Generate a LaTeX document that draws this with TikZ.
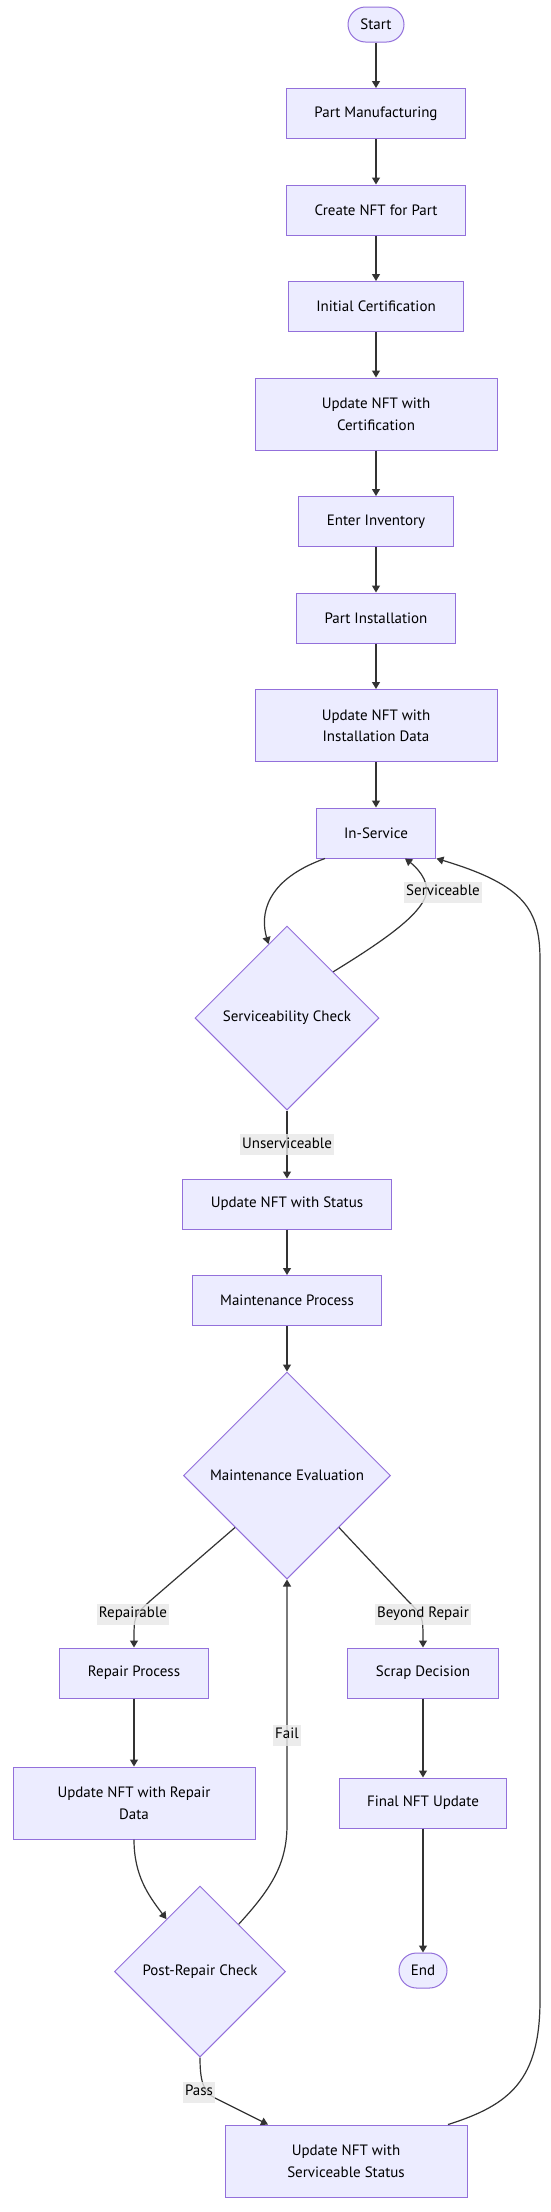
\documentclass[tikz,border=0pt]{standalone}
\usepackage{fontspec}
\setmainfont{PT Sans}
\usetikzlibrary{positioning,arrows.meta,shapes.geometric,calc}

\definecolor{boxfill}{HTML}{ECECFF}
\definecolor{boxline}{HTML}{9370DB}
\definecolor{edgeline}{HTML}{333333}
\definecolor{labelfill}{HTML}{E8E8E8}

\begin{document}
\begin{tikzpicture}[x=1pt,y=-1pt,>={Triangle[length=7pt,width=8pt]},
			node distance=45.5pt,
			every node/.style={
				font=\fontsize{15}{21.5}\selectfont,
				align=center
			},
			procbox/.style={draw=boxline, fill=boxfill, line width=1pt, minimum height=50pt, inner xsep=28pt},
			widebox/.style={procbox, minimum width=242pt, minimum height=72pt},
			decision/.style={diamond, aspect=1, draw=boxline, fill=boxfill, line width=1pt, inner sep=1pt},
			terminal/.style={draw=boxline, fill=boxfill, line width=1pt, rounded corners=17.5pt, minimum height=35pt, inner xsep=0pt},
			edge/.style={->, draw=edgeline, line width=1.2pt},
			elabel/.style={fill=labelfill, fill opacity=0.8, text opacity=1, inner xsep=2pt, inner ysep=3pt, text height=11pt, text depth=4pt}]
			
			\fill[white](0,0) rectangle (550,2212);
			\useasboundingbox (0,0) rectangle (550,2212);
			
			\node (start)[terminal, minimum width=56pt] at (376,24.5){Start};
			
			\node (manuf)[procbox, below=of start]{Part Manufacturing};
			
			\node (create)[procbox, below=of manuf]{Create NFT for Part};
			
			\node (initcert)[procbox, below=of create]{Initial Certification};
			
			\node (updcert)[widebox, below=of initcert]{Update NFT with\\Certification};
			
			\node (inventory)[procbox, below=of updcert]{Enter Inventory};
			
			\node (install)[procbox, below=of inventory]{Part Installation};
			
			\node (updinstall)[widebox, below=of install]{Update NFT with\\Installation Data};
			
			\node (inservice)[procbox, below=of updinstall]{In-Service};
			
			\node (servcheck)[decision, minimum size=184pt, below=67pt of inservice, xshift=-89pt]{Serviceability Check};
			
			\node (updstatus)[procbox, below=68pt of servcheck]{Update NFT with Status};
			
			\node (maintproc)[procbox, below=of updstatus]{Maintenance Process};
			
			\node (mainteval)[decision, minimum size=207pt, below=of maintproc]{Maintenance Evaluation};
			
			\node (repair)[procbox, below=68pt of mainteval, xshift=-153pt]{Repair Process};
			
			\node (scrap)[procbox, below=68pt of mainteval, xshift=136pt]{Scrap Decision};
			
			\node (updrepair)[widebox, below=68pt of repair]{Update NFT with Repair\\Data};
			
			\node (finalupd)[procbox, below=79pt of scrap]{Final NFT Update};
			
			\node (postcheck)[decision, minimum size=171pt, below=46pt of updrepair, xshift=66pt]{Post-Repair Check};
			
			\node (finish)[terminal, minimum width=48pt, below=124pt of finalupd]{End};
			
			\node (updserv)[widebox, below=67pt of postcheck, xshift=146pt]{Update NFT with\\Serviceable Status};
			
			\draw[edge](start)--(manuf);
			
			\draw[edge](manuf)--(create);
			
			\draw[edge](create)--(initcert);
			
			\draw[edge](initcert)--(updcert);
			
			\draw[edge](updcert)--(inventory);
			
			\draw[edge](inventory)--(install);
			
			\draw[edge](install)--(updinstall);
			
			\draw[edge](updinstall)--(inservice);
			
			\draw[edge]([xshift=-51pt]inservice.south) .. controls (265,880) and (260,915) .. ($(servcheck.north)!0.2!(servcheck.west)$);
			
			\draw[edge](servcheck.north east) .. controls (385,940) and (420,915) .. (426,895) .. controls (430,880) and (415,866) .. ([xshift=29pt]inservice.south);
			
			\draw[edge](servcheck)--(updstatus) node[elabel, midway]{Unserviceable};
			
			\draw[edge](updstatus)--(maintproc);
			
			\draw[edge](maintproc)--(mainteval);
			
			\draw[edge](mainteval.south west)--(150,1601) .. controls (134,1616) .. (repair.north);
			
			\draw[edge](mainteval.south east)--(408,1601) .. controls (423,1616) .. (scrap.north);
			
			\draw[edge](repair)--(updrepair);
			
			\draw[edge](scrap)--(finalupd);
			
			\draw[edge](finalupd)--(finish);
			
			\draw[edge](updrepair.south) .. controls (134,1875) and (148,1895) .. ($(postcheck.north)!0.39!(postcheck.west)$);
			
			\draw[edge]($(postcheck.north)!0.45!(postcheck.east)$) .. controls (270,1890) and (287,1865) .. (287,1825)--(mainteval.south);
			
			\draw[edge](postcheck.south) .. controls (200,2080) and (203,2092) .. (215,2098)--([xshift=-78pt]updserv.north);
			
			\draw[edge]([xshift=102pt]updserv.north) .. controls (510,2105) and (540,2080) .. (540,2000)--(540,960) .. controls (540,910) and (525,885) .. (inservice.south east);
			
			\node (lblserv)[elabel] at (443,892){Serviceable};
			
			\node (lblrepair)[elabel] at (133,1614){Repairable};
			
			\node (lblbeyond)[elabel] at (423,1614){Beyond Repair};
			
			\node (lblfail)[elabel] at (287,1735){Fail};
			
			\node (lblpass)[elabel] at (199,2092){Pass};
			
		\end{tikzpicture}
\end{document}
